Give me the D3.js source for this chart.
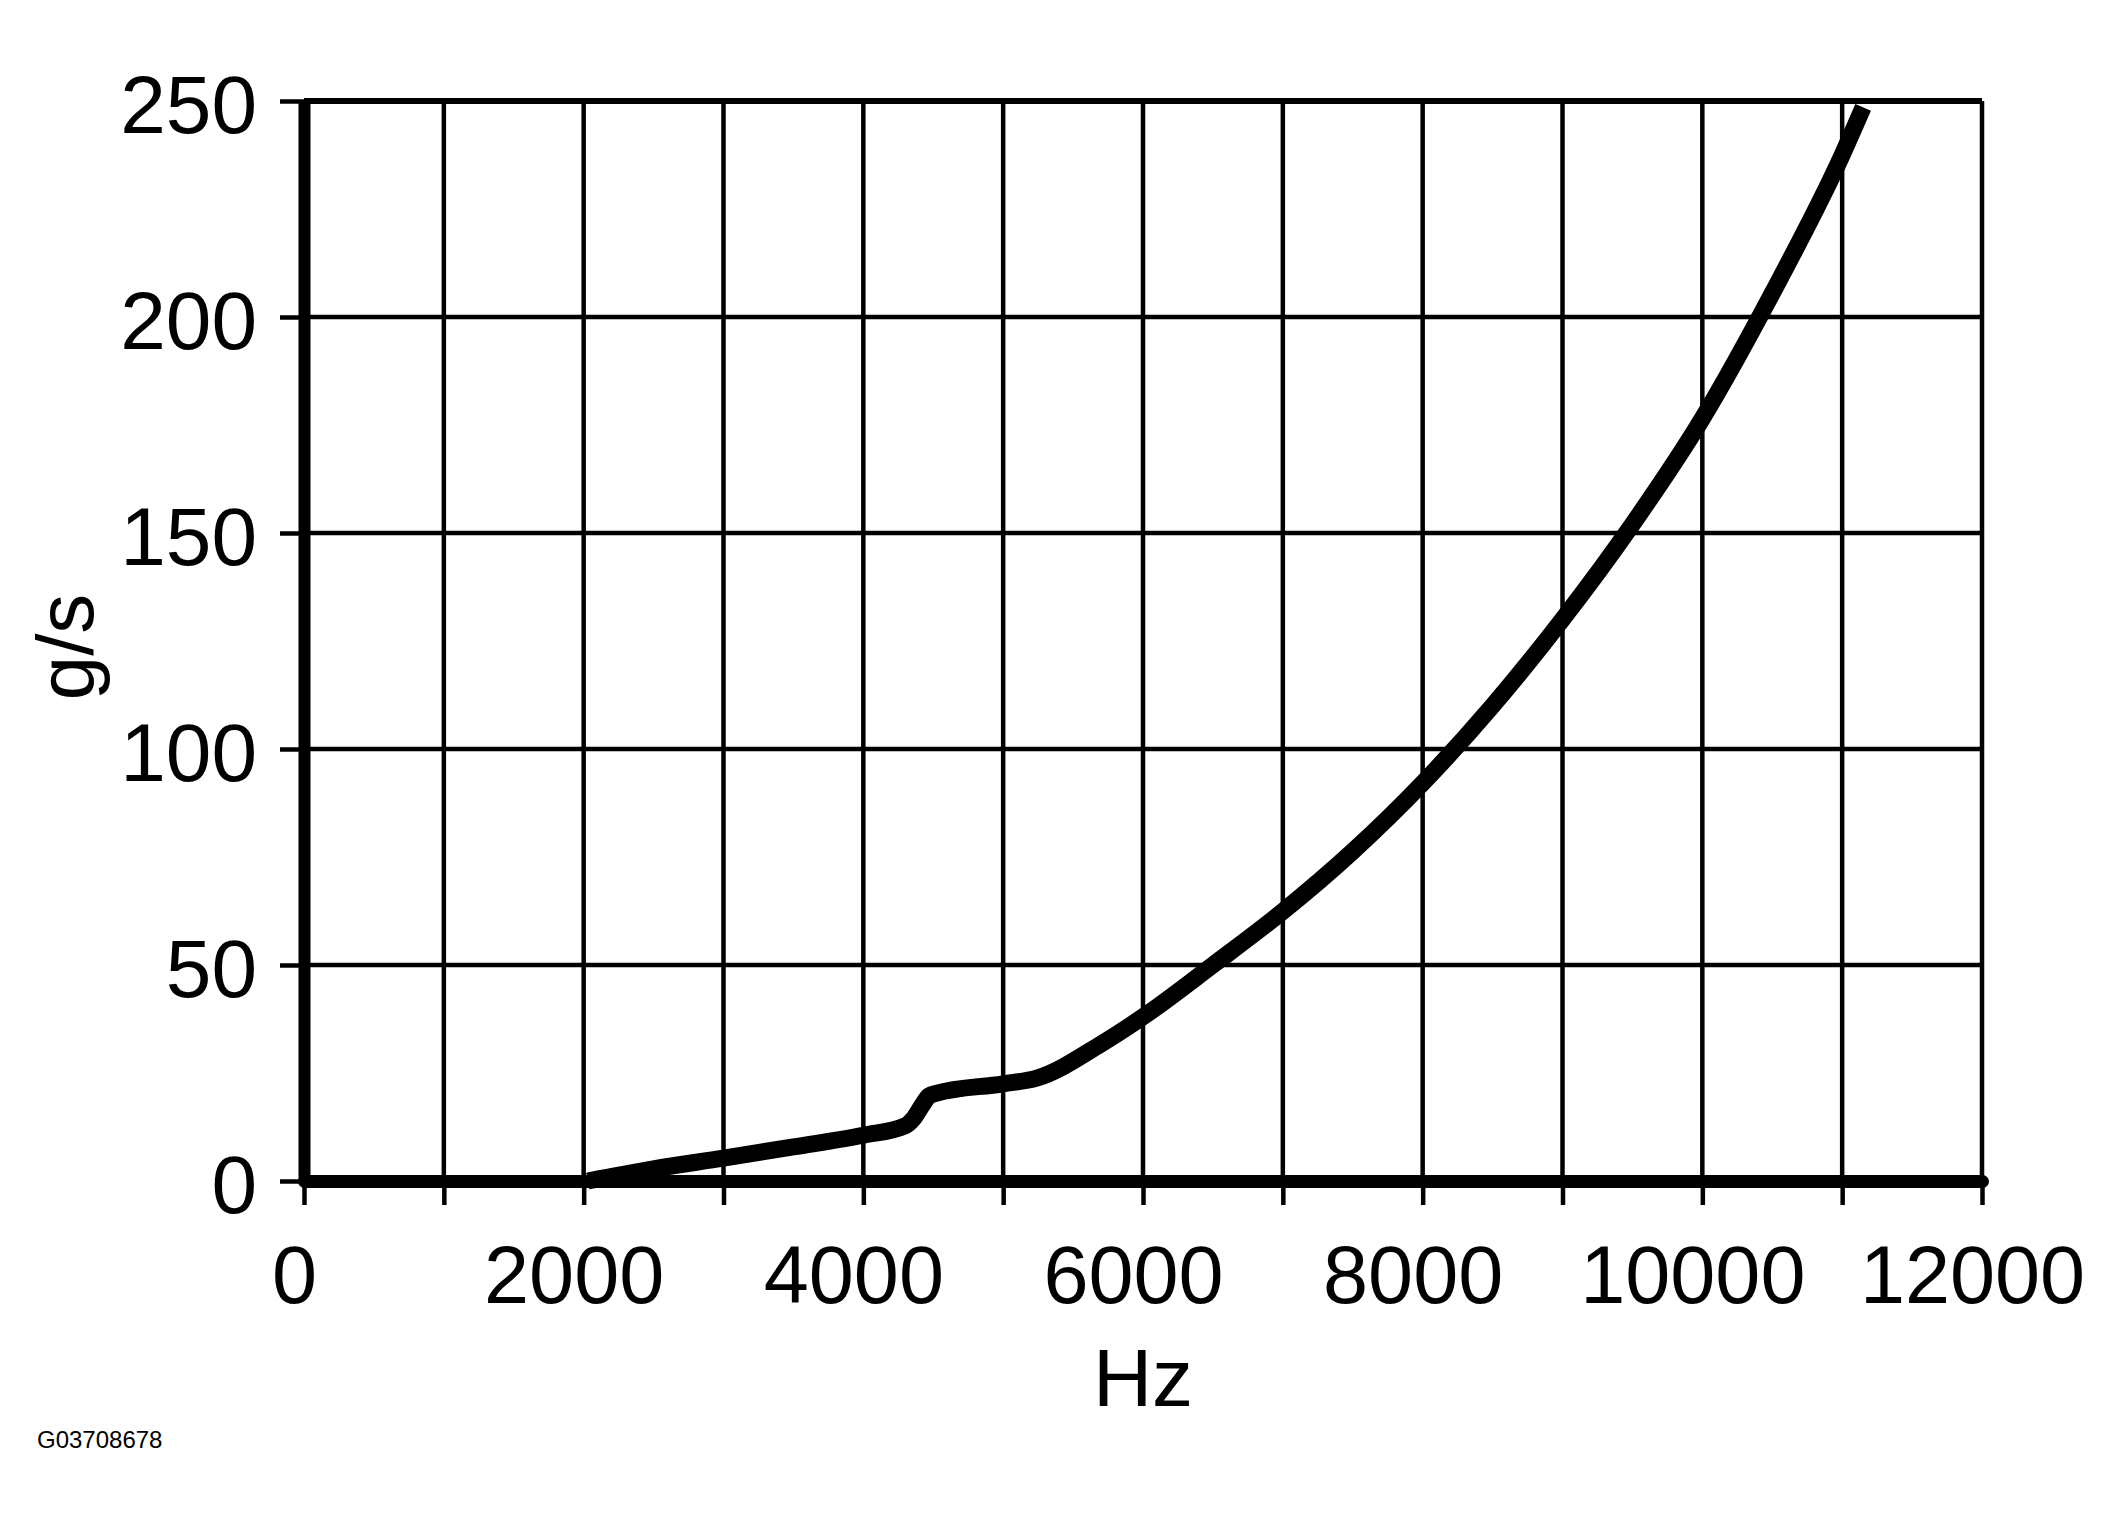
<!DOCTYPE html>
<html>
<head>
<meta charset="utf-8">
<script src="https://cdn.jsdelivr.net/npm/d3@7"></script>
<style>
    body { margin: 0; background: #fff; }
    text { font-family: "Liberation Sans", Arial, sans-serif; fill: #000; }
</style>
</head>
<body>
<div id="chart"></div>
<script>
// values
const hz = [2030, 2500, 3000, 3500, 4000, 4300, 4360, 4420, 4470, 4520, 5000, 5240, 5700, 6000, 6500, 7000, 7500, 8000, 8500, 9000, 9500, 10000, 10500, 11000, 11150];
const gs = [0, 2.8, 5.3, 7.9, 10.6, 12.8, 14.5, 17.5, 19.7, 20.3, 22.5, 23.8, 31.7, 38.0, 50.0, 62.4, 76.3, 92.1, 110, 130, 152, 176.5, 205.5, 237.5, 248.5];
const xGrid = [0, 1000, 2000, 3000, 4000, 5000, 6000, 7000, 8000, 9000, 10000, 11000, 12000];
const yGrid = [0, 50, 100, 150, 200, 250];
const xTitle = 'Hz';
const yTitle = 'g/s';
const figureId = 'G03708678';

function chart() {
    const W = 2124, H = 1525;
    const margin = {top: 101, right: 142, bottom: 344, left: 304};

    const svg = d3.select('#chart')
        .append('svg')
        .attr('width', W)
        .attr('height', H);

    const x = d3.scaleLinear().domain([0, 12000]).range([margin.left, W - margin.right]);
    const y = d3.scaleLinear().domain([0, 250]).range([H - margin.bottom, margin.top]);

    // grid
    svg.append('g')
        .selectAll('line')
        .data(xGrid.slice(1))
        .join('line')
        .attr('x1', d => x(d)).attr('x2', d => x(d))
        .attr('y1', y(0)).attr('y2', y(250))
        .attr('stroke', '#000').attr('stroke-width', 4.5);

    svg.append('g')
        .selectAll('line')
        .data(yGrid.slice(1))
        .join('line')
        .attr('x1', x(0)).attr('x2', x(12000))
        .attr('y1', d => y(d)).attr('y2', d => y(d))
        .attr('stroke', '#000')
        .attr('stroke-width', d => d === 250 ? 6 : 4.5);

    // x axis
    const xAxis = svg.append('g')
        .attr('transform', `translate(0, ${y(0)})`)
        .call(d3.axisBottom(x)
            .tickValues(xGrid)
            .tickSize(24)
            .tickSizeOuter(0)
            .tickFormat(d => d % 2000 === 0 ? d : ''));
    xAxis.select('.domain').attr('stroke-width', 13).attr('stroke-linecap', 'round');
    xAxis.selectAll('.tick line').attr('stroke-width', 4.5);
    xAxis.selectAll('.tick text')
        .attr('y', 122).attr('dy', 0).attr('dx', -10)
        .style('font-size', '81px');

    // y axis
    const yAxis = svg.append('g')
        .attr('transform', `translate(${x(0)}, 0)`)
        .call(d3.axisLeft(y)
            .tickValues(yGrid)
            .tickSize(24)
            .tickSizeOuter(0)
            .tickPadding(23));
    yAxis.select('.domain').attr('stroke-width', 12);
    yAxis.selectAll('.tick line').attr('stroke-width', 4.5);
    yAxis.selectAll('.tick text')
        .attr('dy', '0.39em')
        .style('font-size', '82px');

    // curve
    const points = hz.map((d, i) => [d, gs[i]]);
    svg.append('path')
        .datum(points)
        .attr('fill', 'none')
        .attr('stroke', '#000')
        .attr('stroke-width', 17)
        .attr('stroke-linejoin', 'round')
        .attr('d', d3.line()
            .x(d => x(d[0]))
            .y(d => y(d[1]))
            .curve(d3.curveMonotoneX));

    // titles
    svg.append('text')
        .attr('x', (x(0) + x(12000)) / 2)
        .attr('y', 1406)
        .attr('text-anchor', 'middle')
        .style('font-size', '82px')
        .text(xTitle);

    svg.append('text')
        .attr('transform', `translate(93, 647) rotate(-90)`)
        .attr('text-anchor', 'middle')
        .style('font-size', '80px')
        .text(yTitle);

    svg.append('text')
        .attr('x', 37)
        .attr('y', 1448)
        .style('font-size', '24px')
        .text(figureId);
}

chart();
</script>
</body>
</html>
